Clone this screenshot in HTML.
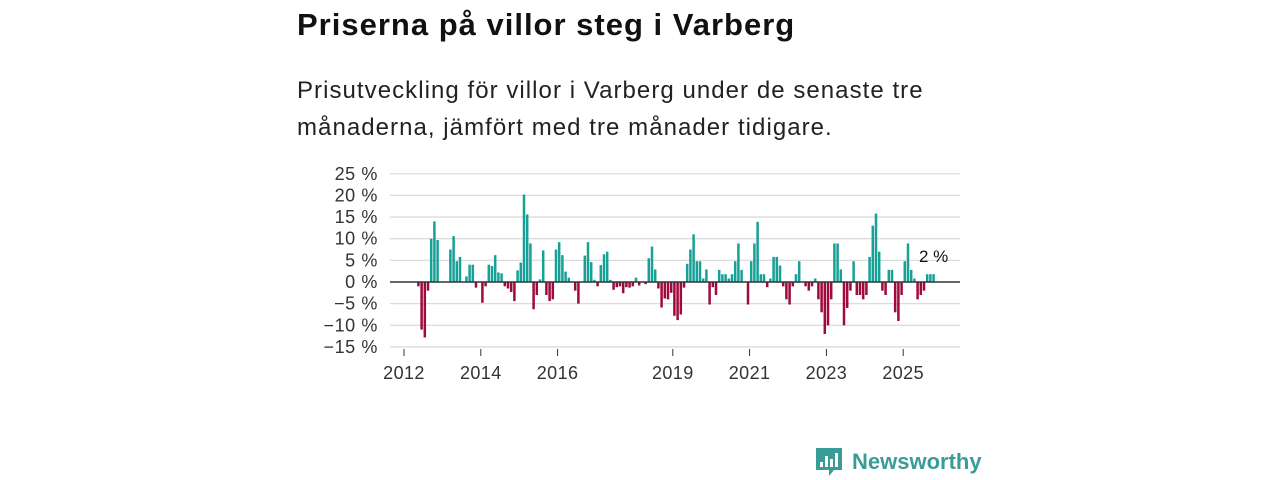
<!DOCTYPE html>
<html><head><meta charset="utf-8">
<style>
body{margin:0;background:#fff;font-family:"Liberation Sans","DejaVu Sans",sans-serif;}
#wrap{position:relative;width:1280px;height:480px;overflow:hidden}
h1{position:absolute;left:297px;top:7px;margin:0;font-size:31px;font-weight:bold;color:#111;letter-spacing:1px}
.sub{position:absolute;left:297px;top:72px;margin:0;font-size:24px;line-height:37px;color:#222;width:700px;letter-spacing:1.05px}
</style></head><body>
<div id="wrap">
<h1>Priserna på villor steg i Varberg</h1>
<p class="sub">Prisutveckling för villor i Varberg under de senaste tre<br>månaderna, jämfört med tre månader tidigare.</p>
<svg id="chart" width="1280" height="480" style="position:absolute;left:0;top:0"></svg>
</div>
<script>
const startYear = 2012, startMonth = 4; // first bar: May 2012
const values = [-1,-11,-12.8,-2,10,14,9.7,0,0,0,7.5,10.6,4.8,5.8,0,1.3,4,4,-1.3,0,-4.8,-1,4,3.7,6.2,2.2,2,-1,-1.5,-2.3,-4.4,2.7,4.5,20.2,15.6,8.9,-6.3,-3,0.6,7.3,-3,-4.4,-4,7.5,9.2,6.2,2.4,1,0,-2,-5,0,6.1,9.2,4.6,0.5,-1,3.9,6.4,7,0.5,-1.8,-1.2,-1,-2.6,-1.2,-1.3,-1,1,-0.8,0,-0.5,5.5,8.2,2.9,-1.5,-5.9,-3.8,-4,-2.5,-7.8,-8.8,-7.5,-1.3,4.2,7.5,11,4.8,4.8,0.8,2.9,-5.2,-1.2,-3,2.8,1.8,1.8,0.8,1.8,4.8,8.9,2.8,0,-5.2,4.8,8.9,13.9,1.8,1.8,-1.2,0.8,5.8,5.8,3.8,-1,-4,-5.2,-1,1.8,4.8,0,-1,-2,-1,0.8,-4,-7,-12,-10,-4,8.9,8.9,2.9,-10,-6,-2,4.8,-3,-3,-4,-3,5.8,13,15.8,7,-2,-3,2.8,2.8,-7,-9,-3,4.8,8.9,2.8,0.8,-4,-3,-2,1.8,1.8,1.8];
const yTicks = [25,20,15,10,5,0,-5,-10,-15];
const xTickYears = [2012,2014,2016,2019,2021,2023,2025];
const lastLabel = "2 %";

const svg = document.getElementById('chart');
const NS = 'http://www.w3.org/2000/svg';
const plotL = 390, plotR = 960, y0 = 282, pxPer = 4.33;
const yScale = v => y0 - v * pxPer;
const xScale = yrs => 404 + (yrs - 2012) * 38.4;
function mk(tag, attrs){const e=document.createElementNS(NS,tag);for(const k in attrs)e.setAttribute(k,attrs[k]);svg.appendChild(e);return e;}

yTicks.forEach(t=>{
  if(t!==0){const g=mk('line',{x1:plotL,x2:plotR,y1:yScale(t),y2:yScale(t),stroke:'#dcdcdc','stroke-width':1.3});
  
  }
  const lb=mk('text',{x:378,y:yScale(t)+6,'text-anchor':'end','font-size':18,fill:'#333','letter-spacing':0.6});
  lb.textContent=(t<0?'\u2212'+(-t):t)+' %';
  
  
});
values.forEach((v,i)=>{
  const yr = startYear + (startMonth + i + 0.5)/12;
  const cx = xScale(yr);
  const r=mk('rect',{x:cx-1.25,width:2.5,y:Math.min(yScale(v),y0),height:Math.abs(yScale(v)-y0),fill:v>=0?'#17a096':'#a0093d'});
  
  
});
const base=mk('line',{x1:plotL,x2:plotR,y1:y0,y2:y0,stroke:'#333','stroke-width':1.6});


xTickYears.forEach(y=>{
  const tk=mk('line',{x1:xScale(y),x2:xScale(y),y1:349,y2:356,stroke:'#333','stroke-width':1});
  
  
  const lb=mk('text',{x:xScale(y),y:379,'text-anchor':'middle','font-size':18,fill:'#333','letter-spacing':0.4});
  lb.textContent=y;
  
  
});
const lastX = xScale(startYear + (startMonth + values.length - 0.5)/12);
const ll=mk('text',{x:lastX,y:262,'text-anchor':'middle','font-size':17,fill:'#111'});
ll.textContent=lastLabel;



// logo
const lg=mk('g',{});


const ic=document.createElementNS(NS,'path');
ic.setAttribute('d','M816 448h26v22h-8l-5 6v-6h-13z');ic.setAttribute('fill','#3a9c96');lg.appendChild(ic);
[[820,462,3,5],[825,456,3,11],[830,459,3,8],[835,453,3,14]].forEach(b=>{const r=document.createElementNS(NS,'rect');r.setAttribute('x',b[0]);r.setAttribute('y',b[1]);r.setAttribute('width',b[2]);r.setAttribute('height',b[3]);r.setAttribute('fill','#fff');lg.appendChild(r);});
const lt=document.createElementNS(NS,'text');lt.setAttribute('x',852);lt.setAttribute('y',469);lt.setAttribute('font-size',22);lt.setAttribute('font-weight','bold');lt.setAttribute('fill','#3a9c96');lt.textContent='Newsworthy';lg.appendChild(lt);
</script>
</body></html>
